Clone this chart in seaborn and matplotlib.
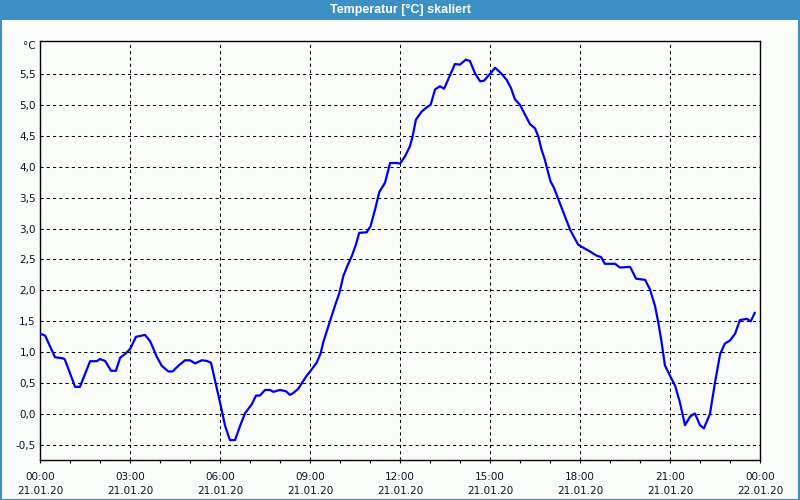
import matplotlib
matplotlib.use("Agg")
import matplotlib.pyplot as plt
from matplotlib.patches import Rectangle
import seaborn as sns
import pandas as pd

# --- data (hours since 21.01.20 00:00, temperature in °C) ---
hours = [0.00, 0.17, 0.50, 0.78, 0.83, 1.17, 1.33, 1.67,
         1.89, 2.00, 2.17, 2.37, 2.53, 2.67, 2.83, 3.00,
         3.20, 3.50, 3.67, 3.89, 4.06, 4.28, 4.42, 4.61,
         4.83, 5.00, 5.17, 5.39, 5.56, 5.70, 6.00, 6.17,
         6.33, 6.50, 6.67, 6.83, 7.06, 7.20, 7.33, 7.50,
         7.67, 7.78, 8.00, 8.20, 8.33, 8.44, 8.61, 8.74,
         8.89, 9.02, 9.22, 9.36, 9.44, 9.58, 9.69, 9.83,
         9.98, 10.11, 10.24, 10.39, 10.53, 10.64, 10.89, 11.02,
         11.17, 11.31, 11.50, 11.67, 11.89, 12.00, 12.17, 12.33,
         12.42, 12.53, 12.72, 12.89, 13.02, 13.17, 13.33, 13.47,
         13.67, 13.83, 14.00, 14.19, 14.33, 14.50, 14.67, 14.80,
         15.00, 15.17, 15.39, 15.56, 15.70, 15.83, 16.00, 16.20,
         16.33, 16.50, 16.61, 16.72, 16.83, 16.94, 17.02, 17.13,
         17.28, 17.39, 17.53, 17.67, 17.78, 17.94, 18.11, 18.33,
         18.56, 18.70, 18.83, 19.17, 19.33, 19.67, 19.87, 20.17,
         20.33, 20.50, 20.61, 20.72, 20.83, 21.00, 21.17, 21.33,
         21.50, 21.67, 21.83, 22.00, 22.13, 22.33, 22.50, 22.67,
         22.83, 23.00, 23.17, 23.33, 23.56, 23.69, 23.83]
temps = [1.30, 1.27, 0.92, 0.90, 0.88, 0.44, 0.44, 0.855,
         0.855, 0.89, 0.86, 0.70, 0.70, 0.91, 0.97, 1.05,
         1.25, 1.28, 1.18, 0.93, 0.78, 0.69, 0.69, 0.78,
         0.87, 0.87, 0.82, 0.87, 0.86, 0.83, 0.19, -0.19,
         -0.42, -0.42, -0.19, 0.01, 0.16, 0.30, 0.30, 0.39,
         0.39, 0.36, 0.39, 0.37, 0.31, 0.34, 0.41, 0.51,
         0.62, 0.70, 0.83, 0.99, 1.16, 1.37, 1.53, 1.75,
         1.96, 2.23, 2.39, 2.55, 2.74, 2.93, 2.94, 3.04,
         3.31, 3.59, 3.74, 4.06, 4.06, 4.05, 4.17, 4.33,
         4.49, 4.76, 4.89, 4.96, 5.00, 5.25, 5.30, 5.26,
         5.48, 5.66, 5.65, 5.73, 5.71, 5.51, 5.38, 5.39,
         5.50, 5.60, 5.50, 5.40, 5.27, 5.09, 5.00, 4.81,
         4.69, 4.62, 4.49, 4.27, 4.11, 3.90, 3.76, 3.66,
         3.47, 3.33, 3.15, 2.98, 2.88, 2.74, 2.69, 2.63,
         2.56, 2.54, 2.43, 2.43, 2.37, 2.38, 2.19, 2.17,
         2.02, 1.75, 1.48, 1.16, 0.79, 0.62, 0.46, 0.19,
         -0.18, -0.04, 0.01, -0.18, -0.23, 0.00, 0.51, 0.97,
         1.14, 1.19, 1.30, 1.52, 1.54, 1.50, 1.64]
x_ticks = [0, 3, 6, 9, 12, 15, 18, 21, 24]
x_labels = ["00:00\n21.01.20", "03:00\n21.01.20", "06:00\n21.01.20",
            "09:00\n21.01.20", "12:00\n21.01.20", "15:00\n21.01.20",
            "18:00\n21.01.20", "21:00\n21.01.20", "00:00\n22.01.20"]
y_ticks = [-0.5, 0.0, 0.5, 1.0, 1.5, 2.0, 2.5, 3.0, 3.5, 4.0, 4.5, 5.0, 5.5]
y_labels = ["-0,5", "0,0", "0,5", "1,0", "1,5", "2,0", "2,5", "3,0", "3,5",
            "4,0", "4,5", "5,0", "5,5"]
title = "Temperatur [°C] skaliert"
unit = "°C"

df = pd.DataFrame({"h": hours, "t": temps})

sns.set_style("white")
plt.rcParams["font.family"] = ["DejaVu Sans"]

bg = "#fafcfa"
blue_bar = "#3b91c3"
txt = "#101020"

fig = plt.figure(figsize=(8, 5), dpi=100, facecolor=bg)
ax = fig.add_axes([0.05, 0.08, 0.90, 0.8386])
ax.set_facecolor(bg)

sns.lineplot(data=df, x="h", y="t", ax=ax, color="#0000ee", linewidth=1.6,
             sort=False, estimator=None, zorder=3)

ax.set_xlim(0, 24)
ax.set_ylim(-0.742, 6.037)
ax.set_xticks(x_ticks)
ax.set_xticklabels(x_labels, fontsize=7.5, color=txt, linespacing=1.53)
ax.set_xticks(range(0, 25), minor=True)
ax.set_yticks(y_ticks)
ax.set_yticklabels(y_labels, fontsize=7.5, color=txt)
ax.set_xlabel("")
ax.set_ylabel("")

ax.tick_params(axis="x", which="both", direction="out", length=2.5, width=0.8,
               color="black", bottom=True, pad=5.8)
ax.tick_params(axis="y", which="both", length=0, pad=3)

ax.grid(True, which="major", color="black", linewidth=0.75,
        linestyle=(0, (3, 3)), zorder=1)
for s in ax.spines.values():
    s.set_color("black")
    s.set_linewidth(1.0)
    s.set_visible(True)

ax.text(-0.006, 1.0, unit, transform=ax.transAxes, ha="right", va="top",
        fontsize=7.5, color=txt)

# title bar
fig.patches.append(Rectangle((0, 1 - 20 / 500), 1, 20 / 500,
                             transform=fig.transFigure, facecolor=blue_bar,
                             edgecolor="none", zorder=0))
fig.text(0.5, 1 - 10 / 500, title, ha="center", va="center", color="white",
         fontsize=9, fontweight="bold", family=["Liberation Sans"])
# window border
fig.patches.append(Rectangle((0.5 / 800, 0.5 / 500), 1 - 1.5 / 800, 1 - 1.5 / 500,
                             transform=fig.transFigure, facecolor="none",
                             edgecolor=blue_bar, linewidth=1.5, zorder=5))

fig.savefig("out.png", dpi=100, facecolor=bg)
